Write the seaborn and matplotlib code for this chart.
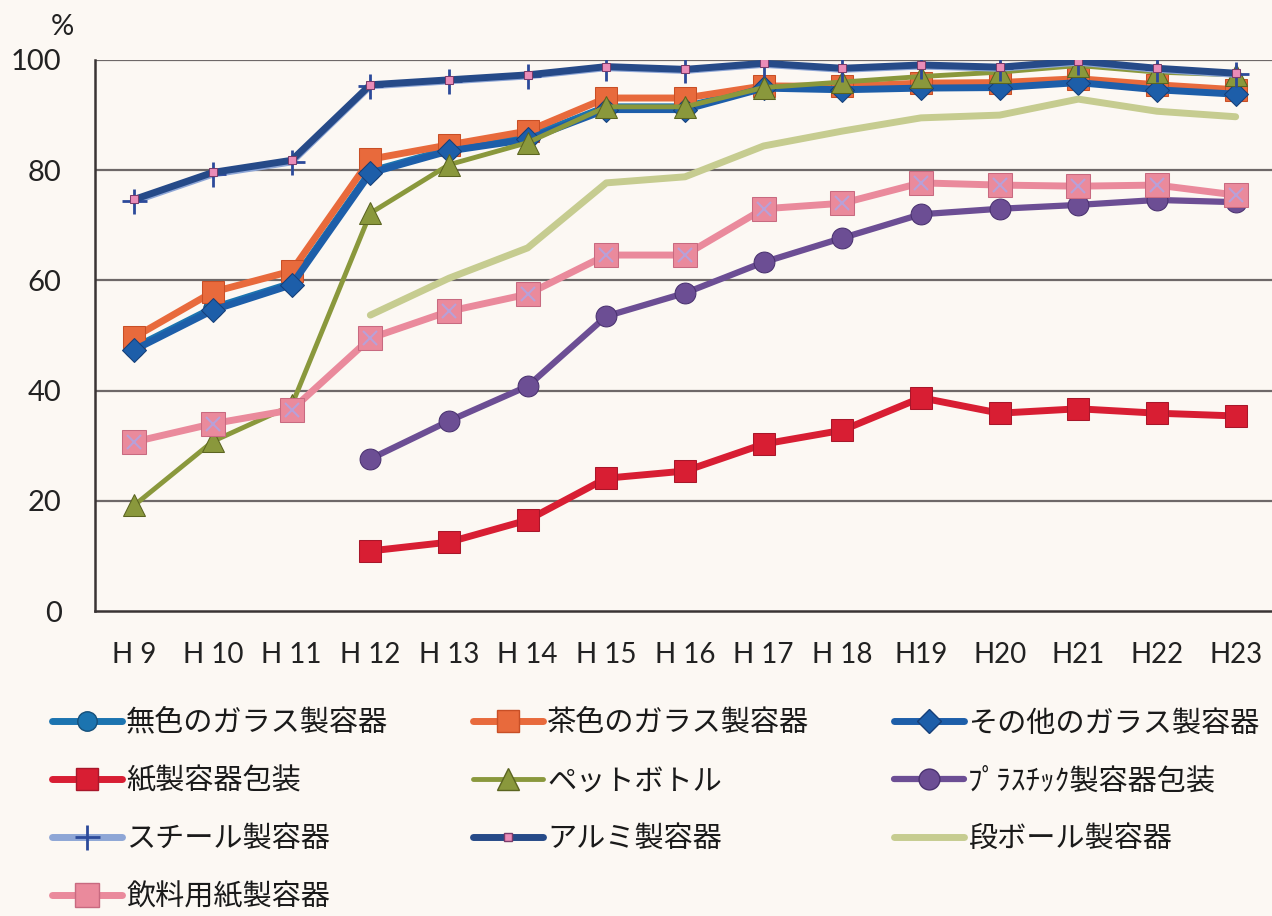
import numpy as np
import matplotlib
matplotlib.use("Agg")
import matplotlib.pyplot as plt
import seaborn as sns
from matplotlib.lines import Line2D

nan = np.nan
years = ["H 9", "H 10", "H 11", "H 12", "H 13", "H 14", "H 15", "H 16",
         "H 17", "H 18", "H19", "H20", "H21", "H22", "H23"]

colorless = [47.8, 55.0, 59.5, 79.8, 83.8, 86.0, 91.5, 91.5, 95.0, 95.0, 95.2, 95.3, 96.2, 95.0, 94.2]
brown     = [49.7, 57.9, 61.7, 82.0, 84.6, 87.1, 93.1, 93.1, 95.3, 95.2, 95.8, 95.9, 96.6, 95.5, 94.6]
other     = [47.4, 54.6, 59.2, 79.5, 83.5, 85.6, 91.0, 91.0, 94.9, 94.6, 94.9, 95.0, 95.9, 94.6, 93.8]
paper     = [nan, nan, nan, 10.9, 12.5, 16.5, 24.1, 25.4, 30.3, 32.8, 38.7, 35.9, 36.7, 35.9, 35.4]
pet       = [19.2, 30.8, 37.3, 72.2, 81.0, 85.0, 91.5, 91.5, 95.0, 96.0, 97.0, 97.8, 99.0, 97.8, 97.3]
plastic   = [nan, nan, nan, 27.6, 34.5, 40.8, 53.5, 57.7, 63.3, 67.7, 72.0, 73.0, 73.7, 74.6, 74.2]
steel     = [74.4, 79.3, 81.5, 95.3, 96.2, 97.1, 98.6, 98.1, 99.2, 98.3, 98.9, 98.5, 99.6, 98.3, 97.4]
alum      = [74.7, 79.6, 81.8, 95.5, 96.4, 97.3, 98.8, 98.3, 99.4, 98.5, 99.1, 98.7, 99.8, 98.5, 97.6]
cardboard = [nan, nan, nan, 53.7, 60.4, 65.9, 77.7, 78.8, 84.4, 87.1, 89.5, 90.0, 92.9, 90.7, 89.7]
drink     = [30.7, 34.0, 36.5, 49.5, 54.4, 57.5, 64.6, 64.6, 73.0, 74.0, 77.7, 77.3, 77.1, 77.3, 75.5]

names = ["無色のガラス製容器", "茶色のガラス製容器", "その他のガラス製容器", "紙製容器包装",
         "ペットボトル", "ﾌﾟﾗｽﾁｯｸ製容器包装", "スチール製容器", "アルミ製容器",
         "段ボール製容器", "飲料用紙製容器"]

sns.set_theme(style="white")
plt.rcParams['font.family'] = ['Lato', 'DejaVu Sans']

BG = "#fcf8f3"
fig = plt.figure(figsize=(12.72, 9.16), dpi=100, facecolor=BG)
ax = fig.add_axes([95/1272, 1-611/916, 1180/1272, 551/916], facecolor=BG)

x = np.arange(len(years))

styles = [
    dict(color="#1c74b0", marker="o", markersize=14, markeredgecolor="#16507a", linewidth=5),
    dict(color="#e86a3c", marker="s", markersize=16, markeredgecolor="#c84f26", linewidth=5),
    dict(color="#1d5ea9", marker="D", markersize=12, markeredgecolor="#163f78", linewidth=5),
    dict(color="#d81e33", marker="s", markersize=16, markeredgecolor="#a8172a", linewidth=5),
    dict(color="#8a983c", marker="^", markersize=16, markeredgecolor="#5b6420", linewidth=3.5),
    dict(color="#6c4e94", marker="o", markersize=15, markeredgecolor="#4a3270", linewidth=4.5),
    dict(color="#8ea6d6", marker="+", markersize=18, markeredgecolor="#2c4a9a", markeredgewidth=2, linewidth=5),
    dict(color="#264a88", marker="s", markersize=6, markerfacecolor="#ea8cb8", markeredgecolor="#7a3c6a", linewidth=5),
    dict(color="#c6cc90", marker=None, linewidth=5),
    dict(color="#ea8a9c", marker="s", markersize=17, markeredgecolor="#c86a80", linewidth=5),
]
series = [colorless, brown, other, paper, pet, plastic, steel, alum, cardboard, drink]

handles = []
for name, vals, st in zip(names, series, styles):
    sns.lineplot(x=x, y=vals, ax=ax, label=name, zorder=3, **st)
    h = Line2D([], [], **st)
    handles.append(h)
# light 'x' inside the drink carton squares
sns.lineplot(x=x, y=drink, ax=ax, marker="x", markersize=10, markeredgecolor="#b8a0d8",
             markeredgewidth=1.5, linewidth=0, zorder=4, legend=False)
if ax.get_legend() is not None:
    ax.get_legend().remove()

ax.set_xlim(-0.5, len(years) - 0.5)
ax.set_ylim(0, 100)
ax.set_yticks([0, 20, 40, 60, 80, 100])
ax.set_yticklabels(["0", "20", "40", "60", "80", "100"], fontsize=21, color="#222222")
ax.set_xticks(x)
ax.set_xticklabels(years, fontsize=20, color="#222222")
ax.set_xticks(np.arange(0.5, len(years) - 0.5, 1), minor=True)
ax.tick_params(axis="x", which="major", length=0, pad=22)
ax.tick_params(axis="x", which="minor", length=7, width=1.5, direction="in", color="#444444")
ax.tick_params(axis="y", length=0, pad=24)
ax.grid(False)
for yv in [20, 40, 60, 80, 100]:
    ax.axhline(yv, color="#6e6868", linewidth=1.6, zorder=1)
for s in ["top", "right"]:
    ax.spines[s].set_visible(False)
for s in ["left", "bottom"]:
    ax.spines[s].set_color("#3a3434")
    ax.spines[s].set_linewidth(1.8)
ax.set_xlabel("")
ax.set_ylabel("")

fig.text(62/1272, 1-27/916, "%", fontsize=21, ha="center", va="center", color="#222222")

# legend (column-major ordering to match row-major layout)
order = [0, 3, 6, 9, 1, 4, 7, 2, 5, 8]
leg = fig.legend([handles[i] for i in order], [names[i] for i in order],
                 loc="upper left", bbox_to_anchor=(40/1272, 1-697/916), ncol=3,
                 frameon=False, handlelength=2.4, handletextpad=0.15,
                 columnspacing=2.9, labelspacing=0.95, borderaxespad=0,
                 prop={'family': ['Noto Sans CJK JP', 'DejaVu Sans'], 'size': 21})
for t in leg.get_texts():
    t.set_color("#1a1a1a")

fig.savefig("out.png", dpi=100, facecolor=BG)
